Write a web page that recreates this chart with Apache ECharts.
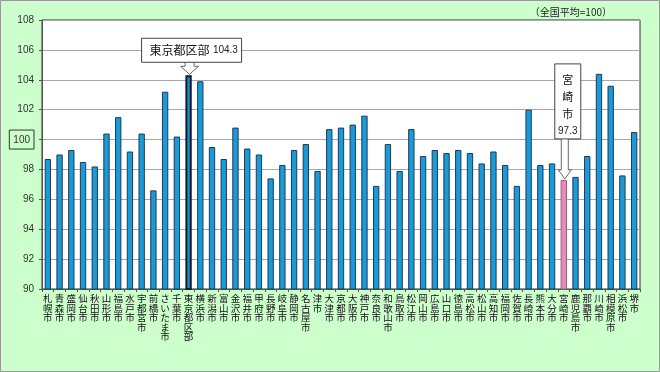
<!DOCTYPE html>
<html><head><meta charset="utf-8">
<script src="https://cdn.jsdelivr.net/npm/echarts@6/dist/echarts.min.js"></script>
<style>html,body{margin:0;padding:0;background:#ccffcc;}#c{width:660px;height:372px;}</style>
</head><body><div id="c"></div>
<script>
var categories = ['札幌市','青森市','盛岡市','仙台市','秋田市','山形市','福島市','水戸市','宇都宮市','前橋市','さいたま市','千葉市','東京都区部','横浜市','新潟市','富山市','金沢市','福井市','甲府市','長野市','岐阜市','静岡市','名古屋市','津市','大津市','京都市','大阪市','神戸市','奈良市','和歌山市','鳥取市','松江市','岡山市','広島市','山口市','徳島市','高松市','松山市','高知市','福岡市','佐賀市','長崎市','熊本市','大分市','宮崎市','鹿児島市','那覇市','川崎市','相模原市','浜松市','堺市'];
var values = [98.7,99.0,99.3,98.5,98.2,100.4,101.5,99.2,100.4,96.6,103.2,100.2,104.3,103.9,99.5,98.7,100.8,99.4,99.0,97.4,98.3,99.3,99.7,97.9,100.7,100.8,101.0,101.6,96.9,99.7,97.9,100.7,98.9,99.3,99.1,99.3,99.1,98.4,99.2,98.3,96.9,102.0,98.3,98.4,97.3,97.5,98.9,104.4,103.6,97.6,100.5];
var yTicks = [90,92,94,96,98,100,102,104,106,108];
var noteText = '（全国平均=100）';
var calloutTokyo = {name:'東京都区部', value:'104.3'};
var calloutMiyazaki = {name:'宮崎市', value:'97.3'};

var FONT = '"Noto Sans CJK JP", "Noto Sans", sans-serif';
var chart = echarts.init(document.getElementById('c'));
var data = values.map(function(v,i){
  var it = {value:v};
  if (categories[i] === calloutTokyo.name) it.itemStyle = {color:'#1a93cc', borderColor:'#0b1a2c', borderWidth:2};
  if (categories[i] === calloutMiyazaki.name) it.itemStyle = {color:'#e58cba', borderColor:'#9a5a7c', borderWidth:1};
  return it;
});
chart.setOption({
  backgroundColor:'#ccffcc',
  animation:false,
  textStyle:{fontFamily:FONT},
  grid:{left:42, right:20, top:20, bottom:83, show:true, backgroundColor:'#ffffff', borderColor:'#333', borderWidth:1},
  xAxis:{type:'category', data:categories,
    axisLine:{lineStyle:{color:'#555'}},
    axisTick:{show:true, length:3, lineStyle:{color:'#555'}},
    axisLabel:{interval:0, fontSize:9.5, lineHeight:9.5, color:'#111', margin:5, fontFamily:FONT,
      formatter:function(v){return v.split('').join('\n');}}},
  yAxis:{type:'value', min:yTicks[0], max:yTicks[yTicks.length-1], interval:2,
    axisLine:{show:true, lineStyle:{color:'#555'}},
    axisTick:{show:true, length:3, lineStyle:{color:'#555'}},
    splitLine:{lineStyle:{color:'#a8a8a8', width:1}},
    axisLabel:{fontSize:10, color:'#333', margin:8, fontFamily:'Liberation Sans, Arial, sans-serif',
      formatter:function(v){return v===100?'{b|100}':String(v);},
      rich:{b:{fontSize:10, color:'#333', borderColor:'#333', borderWidth:1, padding:[5,4,4,4], fontFamily:'Liberation Sans, Arial, sans-serif'}}}},
  series:[{type:'bar', data:data, barCategoryGap:'46%',
    itemStyle:{color:'#1a9ad6', borderColor:'#1d3a58', borderWidth:1}}]
});

function arrowPts(cx, y0, y1, shaftW, headW, headH){
  var hs = shaftW/2, hh = headW/2, yh = y1 - headH;
  return [[cx-hs,y0],[cx+hs,y0],[cx+hs,yh],[cx+hh,yh],[cx,y1],[cx-hh,yh],[cx-hs,yh]];
}
var ti = categories.indexOf(calloutTokyo.name), mi = categories.indexOf(calloutMiyazaki.name);
var pT = chart.convertToPixel({gridIndex:0}, [ti, values[ti]]);
var pM = chart.convertToPixel({gridIndex:0}, [mi, values[mi]]);
var gT = {bx: pT[0]+3-50, by: pT[1]-37, bw:100, bh:24};
var gM = {bx: pM[0]+4-13, by: pM[1]-116, bw:26, bh:75};
chart.setOption({graphic:[
  {type:'polygon', shape:{points:arrowPts(pT[0]+1, gT.by+gT.bh-1, pT[1]-1, 9, 18, 8)}, style:{fill:'#fff', stroke:'#666', lineWidth:1}, z:100},
  {type:'rect', shape:{x:gT.bx, y:gT.by, width:gT.bw, height:gT.bh}, style:{fill:'#fff', stroke:'#444', lineWidth:1}, z:101},
  {type:'text', x:gT.bx+8, y:gT.by+gT.bh/2, style:{text:'{a|'+calloutTokyo.name+'} {b|'+calloutTokyo.value+'}', verticalAlign:'middle',
     rich:{a:{fontSize:12, fill:'#111', fontFamily:FONT}, b:{fontSize:10, fill:'#222', fontFamily:'Liberation Sans, Arial, sans-serif'}}}, z:102},
  {type:'polygon', shape:{points:arrowPts(pM[0]+1, gM.by+gM.bh-1, pM[1]-1, 7, 13, 9)}, style:{fill:'#fff', stroke:'#666', lineWidth:1}, z:100},
  {type:'rect', shape:{x:gM.bx, y:gM.by, width:gM.bw, height:gM.bh}, style:{fill:'#fff', stroke:'#444', lineWidth:1}, z:101},
  {type:'text', x:gM.bx+gM.bw/2, y:gM.by+7, style:{text:calloutMiyazaki.name.split('').join('\n'), align:'center', verticalAlign:'top', fontSize:11, lineHeight:17, fill:'#111', fontFamily:FONT}, z:102},
  {type:'text', x:gM.bx+gM.bw/2, y:gM.by+67, style:{text:calloutMiyazaki.value, align:'center', verticalAlign:'middle', fontSize:10, fill:'#222', fontFamily:'Liberation Sans, Arial, sans-serif'}, z:102},
  {type:'text', right:48, top:7, style:{text:noteText, fontSize:10, fill:'#222', fontFamily:FONT}, z:102},
  {type:'rect', shape:{x:0.5, y:0.5, width:659, height:371}, style:{fill:null, stroke:'#999', lineWidth:1}, z:200, silent:true}
]});
</script></body></html>
